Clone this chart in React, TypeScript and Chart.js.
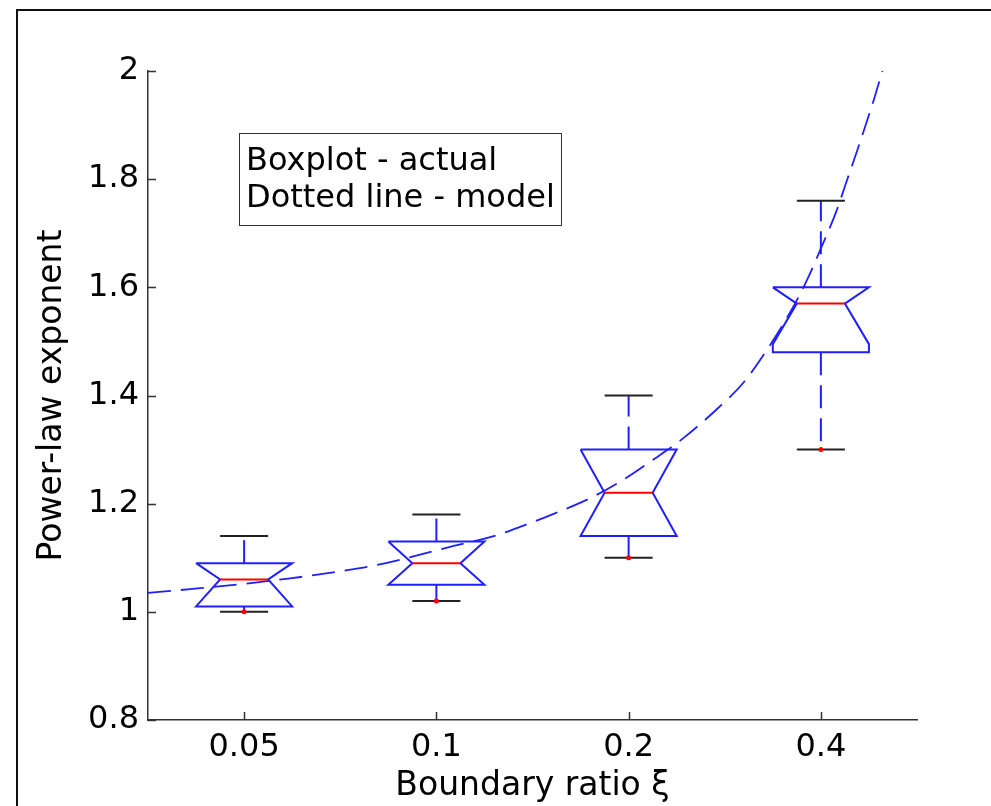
import React, { useEffect, useRef } from 'react';
import { Chart, registerables } from 'chart.js';

Chart.register(...registerables);

// Categories (boundary ratio xi) and their positions on the axis
const xLabels = ['0.05', '0.1', '0.2', '0.4'];
const xPositions = [1, 2, 3, 4];

// Box plot statistics (power-law exponent)
const whiskerLow = [1.0, 1.02, 1.1, 1.3];
const q1 = [1.01, 1.05, 1.14, 1.48];
const median = [1.06, 1.09, 1.22, 1.57];
const q3 = [1.09, 1.13, 1.3, 1.6];
const whiskerHigh = [1.14, 1.18, 1.4, 1.76];
const notchLow = [1.01, 1.05, 1.14, 1.495];
const notchHigh = [1.09, 1.13, 1.3, 1.6];
const outliers = [1.0, 1.02, 1.1, 1.3];

// Model curve (dashed), read along the axis positions
const modelX = [0.5, 0.72, 0.98, 1.24, 1.5, 1.67, 1.93, 2.09, 2.28, 2.45, 2.63, 2.81, 2.98, 3.11, 3.27, 3.46, 3.6, 3.73, 3.85, 3.93, 4.0, 4.08, 4.13, 4.19, 4.23, 4.28, 4.32];
const modelY = [1.035, 1.042, 1.051, 1.062, 1.075, 1.085, 1.107, 1.122, 1.138, 1.159, 1.184, 1.212, 1.246, 1.277, 1.317, 1.375, 1.425, 1.49, 1.56, 1.615, 1.672, 1.74, 1.792, 1.854, 1.897, 1.952, 2.0];

const legendLines = ['Boxplot - actual', 'Dotted line - model'];
const xTitle = 'Boundary ratio \u03BE';
const yTitle = 'Power-law exponent';

const FONT = '"DejaVu Sans", sans-serif';

export default function App() {
  const ref = useRef<HTMLCanvasElement>(null);

  useEffect(() => {
    if (!ref.current) return;
    const BOX_HALF = 0.25;
    const NOTCH_HALF = 0.125;
    const CAP_HALF = 0.125;
    const blue = '#2020ff';
    const red = '#ff0000';
    const black = '#222222';
    const dash = [23, 10];

    const seg = (data: any[], color: string, extra: any = {}) => ({
      type: 'line',
      data,
      borderColor: color,
      borderWidth: 2,
      pointRadius: 0,
      pointHoverRadius: 0,
      fill: false,
      tension: 0,
      ...extra,
    });

    const datasets: any[] = [];
    datasets.push({
      type: 'scatter',
      data: xPositions.map((x, i) => ({ x, y: outliers[i] })),
      pointRadius: 2.5,
      pointBackgroundColor: red,
      pointBorderWidth: 0,
      showLine: false,
    });
    xPositions.forEach((c, i) => {
      datasets.push(seg([{ x: c - NOTCH_HALF, y: median[i] }, { x: c + NOTCH_HALF, y: median[i] }], red));
      datasets.push(seg([{ x: c - CAP_HALF, y: whiskerHigh[i] }, { x: c + CAP_HALF, y: whiskerHigh[i] }], black));
      datasets.push(seg([{ x: c - CAP_HALF, y: whiskerLow[i] }, { x: c + CAP_HALF, y: whiskerLow[i] }], black));
      datasets.push(seg([{ x: c, y: q3[i] }, { x: c, y: whiskerHigh[i] }], blue, { borderDash: dash }));
      datasets.push(seg([{ x: c, y: q1[i] }, { x: c, y: whiskerLow[i] }], blue, { borderDash: dash }));
      datasets.push(
        seg(
          [
            { x: c - BOX_HALF, y: q3[i] },
            { x: c + BOX_HALF, y: q3[i] },
            { x: c + BOX_HALF, y: notchHigh[i] },
            { x: c + NOTCH_HALF, y: median[i] },
            { x: c + BOX_HALF, y: notchLow[i] },
            { x: c + BOX_HALF, y: q1[i] },
            { x: c - BOX_HALF, y: q1[i] },
            { x: c - BOX_HALF, y: notchLow[i] },
            { x: c - NOTCH_HALF, y: median[i] },
            { x: c - BOX_HALF, y: notchHigh[i] },
            { x: c - BOX_HALF, y: q3[i] },
          ],
          blue
        )
      );
    });
    datasets.push(
      seg(modelX.map((x, i) => ({ x, y: modelY[i] })), blue, {
        borderDash: dash,
        borderWidth: 1.8,
        cubicInterpolationMode: 'monotone',
      })
    );

    const innerTicks = {
      id: 'innerTicks',
      afterDatasetsDraw(chart: any) {
        const { ctx, chartArea, scales } = chart;
        const xs = scales.x;
        const ys = scales.y;
        ctx.save();
        ctx.strokeStyle = '#333';
        ctx.lineWidth = 1.5;
        xs.ticks.forEach((t: any) => {
          const px = Math.round(xs.getPixelForValue(t.value)) + 0.5;
          ctx.beginPath();
          ctx.moveTo(px, chartArea.bottom);
          ctx.lineTo(px, chartArea.bottom - 8);
          ctx.stroke();
        });
        ys.ticks.forEach((t: any) => {
          const py = Math.round(ys.getPixelForValue(t.value)) + 0.5;
          ctx.beginPath();
          ctx.moveTo(chartArea.left, py);
          ctx.lineTo(chartArea.left + 8, py);
          ctx.stroke();
        });
        ctx.restore();
      },
    };

    const frameAndNote = {
      id: 'frameAndNote',
      afterDraw(chart: any) {
        const { ctx } = chart;
        ctx.save();
        // outer figure frame (left and top edges visible)
        ctx.strokeStyle = '#111';
        ctx.lineWidth = 2;
        ctx.beginPath();
        ctx.moveTo(17, 806);
        ctx.lineTo(17, 10);
        ctx.lineTo(991, 10);
        ctx.stroke();
        // text note box
        ctx.lineWidth = 1;
        ctx.strokeStyle = '#333';
        ctx.fillStyle = '#ffffff';
        ctx.fillRect(239.5, 133.5, 322, 92);
        ctx.strokeRect(239.5, 133.5, 322, 92);
        ctx.fillStyle = '#000';
        ctx.font = `32px ${FONT}`;
        ctx.textBaseline = 'alphabetic';
        ctx.textAlign = 'left';
        ctx.fillText(legendLines[0], 246, 170);
        ctx.fillText(legendLines[1], 246, 207);
        ctx.restore();
      },
    };

    const chart = new Chart(ref.current, {
      type: 'line',
      data: { datasets },
      options: {
        animation: false,
        responsive: false,
        devicePixelRatio: 1,
        events: [],
        layout: { padding: { top: 71, right: 74, left: 0, bottom: 0 } },
        plugins: { legend: { display: false }, tooltip: { enabled: false }, title: { display: false } },
        scales: {
          x: {
            type: 'linear',
            min: 0.5,
            max: 4.5,
            afterBuildTicks: (s: any) => {
              s.ticks = xPositions.map((v) => ({ value: v }));
            },
            afterFit: (s: any) => {
              s.height = 86;
            },
            grid: { display: false, drawTicks: false },
            border: { display: true, color: '#333', width: 1.5 },
            ticks: {
              autoSkip: false,
              maxRotation: 0,
              padding: 8,
              color: '#000',
              font: { family: FONT, size: 32 },
              callback: (v: any) => {
                const k = xPositions.indexOf(Number(v));
                return k >= 0 ? xLabels[k] : '';
              },
            },
            title: { display: true, text: xTitle, color: '#000', font: { family: FONT, size: 33 }, padding: { top: 0, bottom: 0 } },
          },
          y: {
            type: 'linear',
            min: 0.8,
            max: 2,
            afterFit: (s: any) => {
              s.width = 148;
            },
            grid: { display: false, drawTicks: false },
            border: { display: true, color: '#333', width: 1.5 },
            ticks: {
              stepSize: 0.2,
              padding: 9,
              color: '#000',
              font: { family: FONT, size: 32 },
              callback: (v: any) => String(Math.round(Number(v) * 10) / 10),
            },
            title: { display: true, text: yTitle, color: '#000', font: { family: FONT, size: 33 }, padding: { top: 33, bottom: 0 } },
          },
        },
      } as any,
      plugins: [innerTicks, frameAndNote],
    } as any);

    return () => chart.destroy();
  }, []);

  return (
    <div style={{ position: 'fixed', left: 0, top: 0, width: 991, height: 806, background: '#fff' }}>
      <canvas ref={ref} width={991} height={806} style={{ display: 'block', width: 991, height: 806 }} />
    </div>
  );
}
